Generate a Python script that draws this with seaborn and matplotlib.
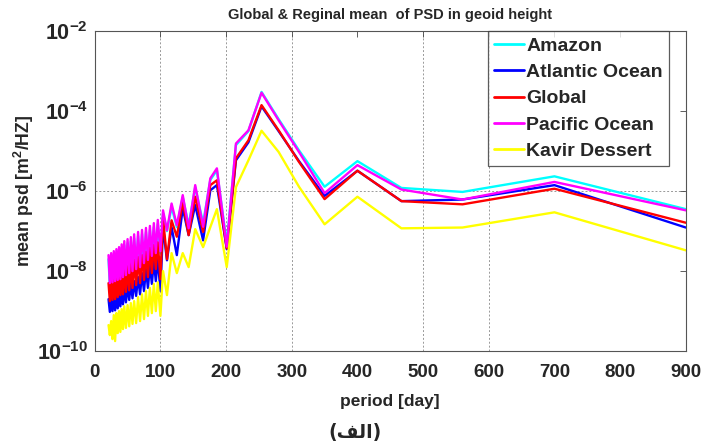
import numpy as np
import pandas as pd
import seaborn as sns
import matplotlib
matplotlib.use("Agg")
import matplotlib.pyplot as plt

# periods (day)
period = [21, 23, 25, 27, 29, 31, 33, 35, 37, 39, 41, 43, 45, 47.5, 50, 52.5,
          55, 57.5, 60, 63, 66, 69, 72, 75, 78, 81, 84, 87, 90, 93, 96, 100,
          104, 110, 117, 125, 134, 143, 153, 165, 176, 186, 201, 215, 234,
          254, 280, 311, 350, 400, 467, 560, 700, 900]

# log10 of mean psd
amazon = [-7.70, -8.40, -7.65, -8.35, -7.60, -8.32, -7.55, -8.30, -7.50, -8.25,
          -7.43, -8.22, -7.35, -8.18, -7.30, -8.12, -7.25, -8.08, -7.18, -8.02,
          -7.12, -7.95, -7.07, -7.88, -7.02, -7.80, -6.97, -7.70, -6.90, -7.62,
          -6.82, -7.55,
          -6.55, -7.00, -6.40, -6.90, -6.15, -6.85, -5.90, -6.80, -5.72, -5.48,
          -7.30, -4.85, -4.50, -3.52, -4.20, -4.98, -5.89, -5.25, -5.92, -6.02,
          -5.63, -6.45]
atlantic = [-8.70, -9.02, -8.68, -9.00, -8.62, -8.98, -8.58, -8.93, -8.52, -8.88,
            -8.48, -8.83, -8.40, -8.78, -8.35, -8.72, -8.30, -8.68, -8.25, -8.62,
            -8.15, -8.58, -8.05, -8.50, -7.95, -8.42, -7.85, -8.32, -7.75, -8.25,
            -7.70, -8.50,
            -6.90, -7.73, -6.90, -7.60, -6.43, -7.10, -6.35, -7.23, -5.98, -5.85,
            -7.45, -5.23, -4.78, -3.88, -4.50, -5.25, -6.12, -5.49, -6.25, -6.21,
            -5.85, -6.91]
global_ = [-8.30, -8.75, -8.25, -8.72, -8.20, -8.70, -8.10, -8.65, -8.05, -8.60,
           -8.00, -8.58, -7.92, -8.52, -7.88, -8.48, -7.80, -8.42, -7.72, -8.35,
           -7.65, -8.30, -7.60, -8.22, -7.52, -8.15, -7.42, -8.05, -7.35, -7.95,
           -7.28, -8.20,
           -6.68, -7.70, -6.73, -7.14, -6.27, -7.10, -6.14, -7.02, -5.85, -5.73,
           -7.43, -5.18, -4.73, -3.85, -4.48, -5.27, -6.20, -5.49, -6.25, -6.33,
           -5.94, -6.79]
pacific = [-7.60, -8.30, -7.55, -8.28, -7.50, -8.25, -7.45, -8.22, -7.40, -8.20,
           -7.33, -8.15, -7.25, -8.10, -7.20, -8.05, -7.15, -8.00, -7.08, -7.95,
           -7.02, -7.90, -6.97, -7.80, -6.92, -7.72, -6.87, -7.62, -6.80, -7.55,
           -6.72, -7.50,
           -6.48, -6.98, -6.31, -6.85, -6.10, -6.93, -5.85, -6.89, -5.68, -5.43,
           -7.39, -4.81, -4.48, -3.54, -4.23, -5.02, -6.05, -5.35, -5.96, -6.21,
           -5.77, -6.48]
kavir = [-9.35, -9.60, -9.25, -9.70, -9.10, -9.75, -9.05, -9.55, -9.00, -9.52,
         -8.95, -9.45, -8.88, -9.42, -8.85, -9.38, -8.80, -9.32, -8.75, -9.30,
         -8.65, -9.25, -8.58, -9.20, -8.50, -9.12, -8.42, -9.05, -8.32, -9.00,
         -8.28, -9.12,
         -8.00, -8.60, -7.55, -8.05, -7.55, -7.90, -6.95, -7.40, -6.90, -6.45,
         -7.90, -5.90, -5.23, -4.49, -5.02, -5.89, -6.83, -6.14, -6.93, -6.91,
         -6.53, -7.48]

names = ["Amazon", "Atlantic Ocean", "Global", "Pacific Ocean", "Kavir Dessert"]
colors = ["#00ffff", "#0000ff", "#ff0000", "#ff00ff", "#ffff00"]
series = [amazon, atlantic, global_, pacific, kavir]

rows = []
for name, vals in zip(names, series):
    for p, v in zip(period, vals):
        rows.append({"period": p, "psd": 10.0 ** v, "region": name})
df = pd.DataFrame(rows)

sns.set_style("white")
plt.rcParams["font.family"] = ["Liberation Sans", "DejaVu Sans"]
plt.rcParams["font.weight"] = "bold"
plt.rcParams["mathtext.fontset"] = "custom"
plt.rcParams["mathtext.rm"] = "Liberation Sans:bold"
plt.rcParams["mathtext.bf"] = "Liberation Sans:bold"
plt.rcParams["mathtext.it"] = "Liberation Sans:bold"

fig = plt.figure(figsize=(7.07, 4.45), dpi=100)
ax = fig.add_axes([0.134, 0.211, 0.836, 0.719])

sns.lineplot(data=df, x="period", y="psd", hue="region", hue_order=names,
             palette=dict(zip(names, colors)), estimator=None, sort=False,
             linewidth=1.7, ax=ax)

ax.set_yscale("log")
ax.set_xlim(0, 900)
ax.set_ylim(1e-10, 1e-2)

ax.set_xticks(range(0, 901, 100))
ax.set_xticklabels([str(t) for t in range(0, 901, 100)], fontsize=13.5,
                   fontweight="bold")
yt = [1e-10, 1e-8, 1e-6, 1e-4, 1e-2]
ax.set_yticks(yt)
ax.set_yticklabels([r"$\mathbf{10^{-10}}$", r"$\mathbf{10^{-8}}$",
                    r"$\mathbf{10^{-6}}$", r"$\mathbf{10^{-4}}$",
                    r"$\mathbf{10^{-2}}$"], fontsize=15.5)
ax.minorticks_off()
ax.tick_params(direction="in", top=True, right=True, length=4, width=0.6,
               color="#444444")
ax.tick_params(axis="x", pad=9)
ax.tick_params(axis="y", pad=5)

for x in [100, 200, 300, 500, 600]:
    ax.axvline(x, color="#999999", lw=0.7, ls=(0, (2, 2)), zorder=0)
ax.axhline(1e-6, color="#999999", lw=0.7, ls=(0, (2, 2)), zorder=0)

for s in ax.spines.values():
    s.set_color("#555555")
    s.set_linewidth(0.8)

ax.set_title("Global & Reginal mean  of PSD in geoid height", fontsize=10.5,
             fontweight="bold", pad=9)
ax.set_xlabel("period [day]", fontsize=12.5, fontweight="bold", labelpad=10)
ax.set_ylabel(r"mean psd [m$^2$/HZ]", fontsize=12.8, fontweight="bold")
ax.yaxis.set_label_coords(-0.100, 0.5)

leg = ax.legend(loc="upper left", bbox_to_anchor=(0.665, 1.0), borderaxespad=0,
                fontsize=14, frameon=True, fancybox=False, edgecolor="#333333",
                handlelength=1.55, handletextpad=0.12, labelspacing=0.45,
                borderpad=0.3)
leg.get_frame().set_linewidth(0.9)
for line in leg.get_lines():
    line.set_linewidth(2)
for t in leg.get_texts():
    t.set_fontweight("bold")

# "(الف)" written in shaped visual order, since matplotlib does no Arabic shaping
fig.text(0.502, 0.029, "(\ufed2\ufedf\ufe8d)", ha="center", va="center",
         fontsize=13.5, fontweight="bold", family=["DejaVu Sans"])

fig.savefig("out.png", dpi=100)
